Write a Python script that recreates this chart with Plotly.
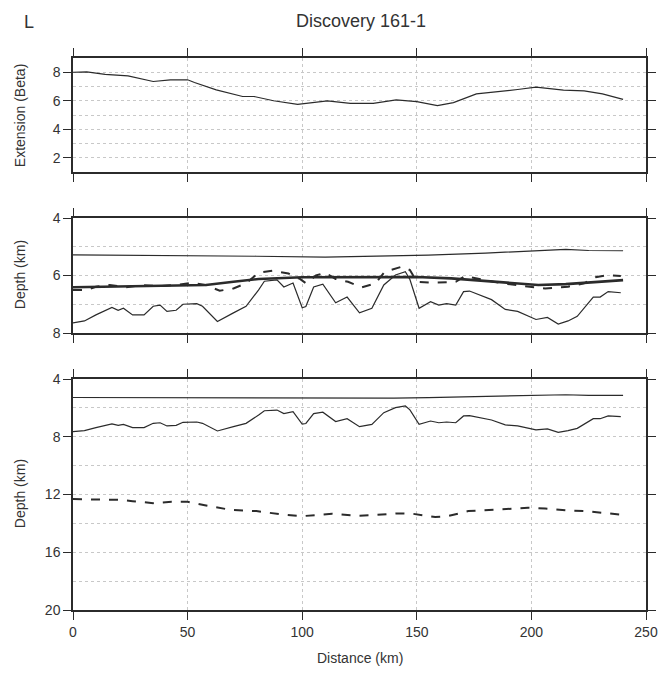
import plotly.graph_objects as go

# ---- Data ----
beta_x = [0, 6, 14, 24, 35, 42.5, 50, 53, 62.5, 74, 79, 87.5, 98, 111, 121, 131, 141, 150, 159, 166, 176, 184, 194, 202, 207, 214, 223, 231, 240]
beta_y = [8.0, 8.03, 7.85, 7.75, 7.35, 7.47, 7.47, 7.28, 6.76, 6.3, 6.3, 6.0, 5.75, 5.99, 5.82, 5.82, 6.06, 5.94, 5.66, 5.87, 6.48, 6.6, 6.79, 6.95, 6.88, 6.74, 6.69, 6.48, 6.1]

seafloor_x = [0, 50, 80, 110, 140, 155, 180, 200, 215, 225, 240]
seafloor_y = [5.28, 5.3, 5.33, 5.36, 5.33, 5.29, 5.22, 5.14, 5.09, 5.13, 5.14]

smooth_x = [0, 20, 40, 58, 70, 81, 100, 130, 150, 165, 180, 192, 203, 215, 228, 240]
smooth_y = [6.41, 6.38, 6.35, 6.33, 6.22, 6.12, 6.06, 6.05, 6.05, 6.1, 6.2, 6.28, 6.33, 6.3, 6.22, 6.16]

pred_x = [0, 6, 10, 16, 23, 30, 38, 45, 52, 58, 64, 70, 75.5, 81, 87, 94, 99, 101.6, 106, 110, 114.6, 120, 126, 132, 136, 143.6, 147, 150, 156.5, 167, 171, 178, 187, 197, 206, 216, 223, 228, 233, 239]
pred_y = [6.5, 6.5, 6.39, 6.33, 6.41, 6.33, 6.37, 6.33, 6.25, 6.33, 6.53, 6.45, 6.27, 5.9, 5.83, 5.93, 6.12, 6.27, 6.0, 5.9, 6.12, 6.22, 6.41, 6.27, 5.87, 5.69, 5.81, 6.22, 6.25, 6.22, 6.02, 6.12, 6.27, 6.37, 6.45, 6.39, 6.27, 6.06, 5.99, 6.02]

basement_x = [0, 5, 10, 17, 19.7, 22, 26, 31, 35, 38, 41, 45, 48, 54, 56.5, 63, 70, 75.5, 81, 83.5, 89, 92, 96, 100, 101.6, 105, 109, 114.6, 119.6, 125, 130.4, 135.6, 140.7, 145, 147, 151, 156, 159.6, 163, 167, 170.4, 173, 182.6, 188.6, 194, 202, 207, 211.7, 216, 220, 227, 230, 233.5, 239]
basement_y = [7.65, 7.58, 7.37, 7.11, 7.21, 7.14, 7.37, 7.37, 7.07, 7.03, 7.25, 7.21, 7.0, 6.98, 7.07, 7.6, 7.3, 7.07, 6.5, 6.2, 6.15, 6.4, 6.26, 7.12, 7.08, 6.4, 6.3, 6.95, 6.75, 7.3, 7.14, 6.33, 5.98, 5.87, 6.14, 7.14, 6.91, 7.03, 6.98, 7.03, 6.56, 6.54, 6.84, 7.18, 7.25, 7.53, 7.46, 7.69, 7.58, 7.42, 6.75, 6.75, 6.56, 6.6]

moho_x = [0, 20, 26, 35, 43, 50, 57.5, 68.6, 80, 91, 100, 113, 124, 132, 141, 148, 158, 163, 172.5, 183.6, 198.5, 206, 215, 224, 232, 239]
moho_y = [12.32, 12.37, 12.46, 12.6, 12.5, 12.5, 12.74, 13.06, 13.15, 13.38, 13.5, 13.33, 13.47, 13.42, 13.31, 13.33, 13.56, 13.52, 13.15, 13.06, 12.92, 12.97, 13.1, 13.15, 13.29, 13.4]

x_ticks = [0, 50, 100, 150, 200, 250]

# ---- Styling ----
INK = "#2b2b2b"
TXT = "#333333"
GRID = "#c8c8c8"
FONT = "Liberation Sans, Arial, sans-serif"

fig = go.Figure()

def line(x, y, xa, ya, width=1.2, dash="solid"):
    fig.add_trace(go.Scatter(x=x, y=y, xaxis=xa, yaxis=ya, mode="lines",
                             line=dict(color=INK, width=width, dash=dash),
                             showlegend=False, hoverinfo="skip"))

# top panel
line(beta_x, beta_y, "x", "y")
# middle panel
line(seafloor_x, seafloor_y, "x2", "y2")
line(basement_x, basement_y, "x2", "y2")
line(pred_x, pred_y, "x2", "y2", width=2, dash="dash")
line(smooth_x, smooth_y, "x2", "y2", width=2.6)
# bottom panel
line(seafloor_x, seafloor_y, "x3", "y3")
line(basement_x, basement_y, "x3", "y3")
line(moho_x, moho_y, "x3", "y3", width=2, dash="dash")

# page geometry (figure drawn with an 8px page offset)
OFF = 8
PL, PR, PT, PB = 73, 648, 58, 610
PW, PH = PR - PL, PB - PT

def dom(top_px, bot_px):
    return [(PB - bot_px) / PH, (PB - top_px) / PH]

def px_x(p):
    return (p - PL) / PW

def px_y(p):
    return (PB - p) / PH

tickfont = dict(size=14, color=TXT, family=FONT)
common_x = dict(range=[0, 250], tickvals=x_ticks, showline=True, linecolor=INK, linewidth=1.5,
                mirror="ticks", ticks="outside", ticklen=8, tickcolor=INK, tickwidth=1,
                showgrid=True, gridcolor=GRID, griddash="dot", gridwidth=0.8, zeroline=False,
                tickfont=tickfont)
common_y = dict(showline=True, linecolor=INK, linewidth=1.5, mirror="ticks", ticks="outside",
                ticklen=8, tickcolor=INK, tickwidth=1, showgrid=True, gridcolor=GRID, griddash="dot",
                gridwidth=0.8, zeroline=False, tickfont=tickfont)

W, H = 670 - OFF, 673 - OFF
fig.update_layout(
    width=W, height=H,
    margin=dict(l=PL - OFF, r=W + OFF - PR, t=PT - OFF, b=H + OFF - PB),
    paper_bgcolor="white", plot_bgcolor="white",
    font=dict(family=FONT, color=TXT),
    xaxis=dict(common_x, anchor="y", showticklabels=False),
    xaxis2=dict(common_x, anchor="y2", showticklabels=False, matches="x"),
    xaxis3=dict(common_x, anchor="y3"),
    yaxis=dict(common_y, domain=dom(58, 172), range=[1, 9], tickvals=[2, 4, 6, 8],
               minor=dict(dtick=1, tick0=0, showgrid=True, gridcolor=GRID, griddash="dot", gridwidth=0.8, ticks="")),
    yaxis2=dict(common_y, domain=dom(218, 333), range=[8, 4], tickvals=[4, 6, 8],
                minor=dict(dtick=1, tick0=0, showgrid=True, gridcolor=GRID, griddash="dot", gridwidth=0.8, ticks="")),
    yaxis3=dict(common_y, domain=dom(379, 610), range=[20, 4], tickvals=[4, 8, 12, 16, 20],
                minor=dict(dtick=2, tick0=0, showgrid=True, gridcolor=GRID, griddash="dot", gridwidth=0.8, ticks="")),
)

annots = [
    ("Discovery 161-1", 362, 21, 0, 18),
    ("L", 29, 22, 0, 18),
    ("Extension (Beta)", 20, 115, -90, 14),
    ("Depth (km)", 20, 275, -90, 14),
    ("Depth (km)", 20, 494, -90, 14),
    ("Distance (km)", 361, 658, 0, 14),
]
for text, x, y, ang, size in annots:
    fig.add_annotation(text=text, x=px_x(x), y=px_y(y), xref="paper", yref="paper",
                       xanchor="center", yanchor="middle", textangle=ang, showarrow=False,
                       font=dict(size=size, color=TXT, family=FONT))

fig.write_html("out.html")
